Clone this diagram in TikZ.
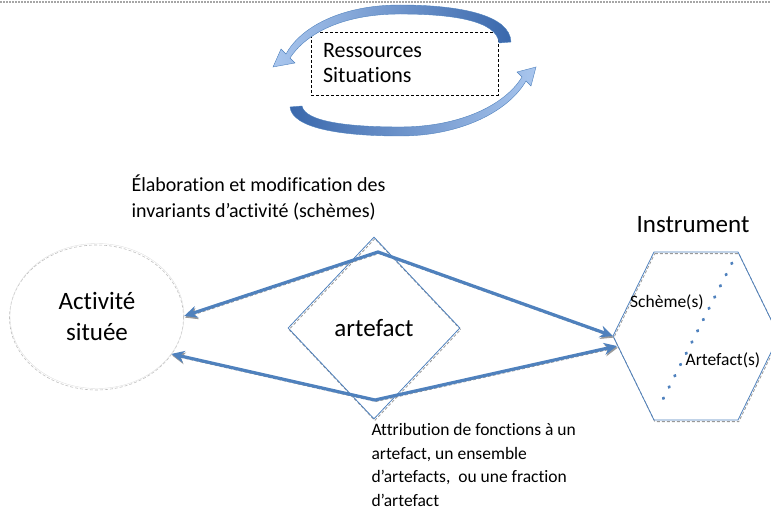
\documentclass[tikz,border=0pt]{standalone}
\usepackage{fontspec}
\setmainfont[Ligatures=NoCommon]{Carlito}
\usetikzlibrary{arrows.meta,shapes.geometric}
\definecolor{bleu}{HTML}{4F81BD}
\definecolor{bleuclair}{HTML}{A9C6EE}
\definecolor{bleufonce}{HTML}{3A68AC}
\begin{document}
\begin{tikzpicture}[x=1pt,y=-1pt,every node/.style={black},
  ombre/.style={preaction={draw=black!40,densely dashed,line width=0.8pt,transform canvas={shift={(0.8pt,-1.6pt)}}}},
  lien/.style={bleu,line width=3.2pt,{Stealth[length=13pt,width=12pt]}-{Stealth[length=13pt,width=12pt]},ombre}]
  \useasboundingbox (0,0) rectangle (771,513);
  \draw[black!35,line width=2pt,dash pattern=on 2pt off 1pt] (0,2) -- (771,2);
  \node[draw=black,densely dashed,minimum width=187pt,minimum height=63pt,text width=163pt,align=left,
    font=\fontsize{22}{25}\selectfont] (res) at (404.5,63.5) {Ressources\\Situations};
  \shadedraw[left color=bleuclair,right color=bleufonce,draw=bleu,line width=0.4pt]
    (499,43) .. controls (497,20) and (450,14) .. (400,14) .. controls (340,14) and (305,35) .. (290,58)
    -- (295,63) -- (273,67) -- (281,49) -- (286,54) .. controls (300,28) and (340,5) .. (400,5)
    .. controls (460,5) and (510,15) .. (511,42) -- cycle;
  \shadedraw[left color=bleufonce,right color=bleuclair,draw=bleu,line width=0.4pt]
    (302,106) .. controls (305,122) and (350,127) .. (400,127) .. controls (460,127) and (505,105) .. (522,77)
    -- (517,72) -- (536,67) -- (531,86) -- (526,81) .. controls (508,112) and (460,136) .. (400,136)
    .. controls (340,136) and (292,128) .. (290,107) -- cycle;
  \node[ellipse,draw=black!12,minimum width=174pt,minimum height=145pt,align=center,
    preaction={draw=black!25,densely dashed,line width=0.6pt,transform canvas={shift={(-0.5pt,-1.5pt)}}},
    font=\fontsize{25}{31}\selectfont] (act) at (97,316) {Activité\\située};
  \node[diamond,draw=bleu,line width=0.8pt,ombre,minimum width=172pt,minimum height=182pt,
    font=\fontsize{25}{28}\selectfont] (art) at (374,328) {artefact};
  \coordinate (h1) at (654,252);
  \coordinate (h2) at (738,252);
  \coordinate (h3) at (779,336);
  \coordinate (h4) at (738,420);
  \coordinate (h5) at (654,420);
  \coordinate (h6) at (613,336);
  \draw[bleu,line width=0.8pt,ombre] (h1) -- (h2) -- (h3) -- (h4) -- (h5) -- (h6) -- cycle;
  \draw[bleu,line width=3pt,line cap=round,dash pattern=on 0.8pt off 11.8pt] (732,263) -- (658,409);
  \node[font=\fontsize{25}{28}\selectfont] (ins) at (693,225) {Instrument};
  \node[anchor=west,inner sep=0pt,font=\fontsize{17.5}{20}\selectfont] (sch) at (630,302) {Schème(s)};
  \node[font=\fontsize{17.5}{20}\selectfont] (arf) at (723,360) {Artefact(s)};
  \node[anchor=north west,align=left,font=\fontsize{20}{26}\selectfont] (elab) at (128,171)
    {Élaboration et modification des\\invariants d’activité (schèmes)};
  \node[anchor=north west,align=left,font=\fontsize{17.5}{23.5}\selectfont] (attr) at (368,420)
    {Attribution de fonctions à un\\artefact, un ensemble\\d’artefacts,~ ou une fraction\\d’artefact};
  \coordinate (haut) at (378,252);
  \coordinate (bas) at (375,400);
  \coordinate (insB) at (617,346);
  \draw[lien] (act.east) -- (haut) -- (h6);
  \draw[lien] (act.-27) -- (bas) -- (insB);
\end{tikzpicture}
\end{document}
